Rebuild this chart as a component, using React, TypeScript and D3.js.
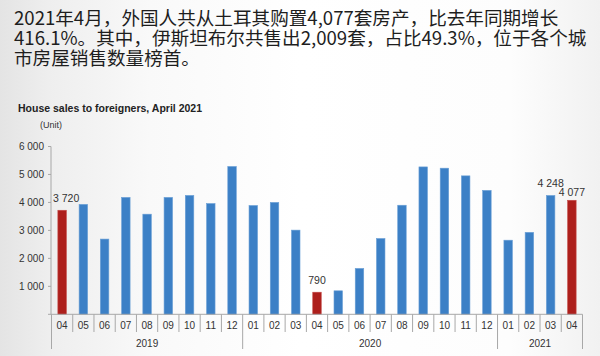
import React from "react";
import * as d3 from "d3";

const months = ["04","05","06","07","08","09","10","11","12","01","02","03","04","05","06","07","08","09","10","11","12","01","02","03","04"];
const years = ["2019","2020","2021"];
const yearSpans = [[0, 9], [9, 21], [21, 25]];
const sales = [3720,3930,2690,4180,3580,4180,4250,3960,5285,3890,4000,3010,790,840,1640,2710,3900,5270,5225,4950,4430,2650,2930,4248,4077];
const highlighted = [0, 12, 24];
const labelled = [0, 12, 23, 24];
const yTicks = [1000, 2000, 3000, 4000, 5000, 6000];
const headerLines = [
  "2021年4月，外国人共从土耳其购置4,077套房产，比去年同期增长",
  "416.1%。其中，伊斯坦布尔共售出2,009套，占比49.3%，位于各个城",
  "市房屋销售数量榜首。",
];
const chartTitle = "House sales to foreigners, April 2021";
const unitLabel = "(Unit)";

const W = 600, H = 356;
const BLUE = "#3c80c6";
const RED = "#ad1f1c";
const AXIS = "#a8a8a8";
const TEXT = "#333";
const latin = "'Liberation Sans', Arial, sans-serif";
const cjk = "'Noto Sans CJK SC', 'Noto Sans', sans-serif";

const fmt = d3.formatLocale({ thousands: " ", grouping: [3], decimal: ".", currency: ["", ""] }).format(",");

export default function App() {
  const x = d3.scaleBand<number>().domain(d3.range(sales.length)).range([51.5, 582.5]).paddingInner(0.6).paddingOuter(0.3);
  const y = d3.scaleLinear().domain([0, 6000]).range([314.3, 146.5]);
  const step = x.step();
  const bw = x.bandwidth();
  const center = (i: number) => (x(0) as number) + bw / 2 + i * step;
  const boundary = (i: number) => center(i) - step / 2;
  const y0 = y(0);

  return (
    <svg width={W} height={H} style={{ position: "absolute", left: 0, top: 0 }} xmlns="http://www.w3.org/2000/svg">
      <defs>
        <linearGradient id="bg" x1="0" y1="0" x2="1" y2="0">
          <stop offset="0" stopColor="#e4e4e4" />
          <stop offset="0.08" stopColor="#eeeeee" />
          <stop offset="0.25" stopColor="#f9f9f9" />
          <stop offset="0.5" stopColor="#ffffff" />
          <stop offset="0.85" stopColor="#fdfdfd" />
          <stop offset="1" stopColor="#f1f1f1" />
        </linearGradient>
      </defs>
      <rect x={0} y={0} width={W} height={H} fill="url(#bg)" />

      {headerLines.map((t, i) => (
        <text key={i} x={14} y={24.5 + i * 20.3} fontFamily={cjk} fontSize={18.6} fill="#1e1e1e">{t}</text>
      ))}

      <text x={18} y={112} fontFamily={latin} fontSize={10.5} fontWeight="bold" fill="#222">{chartTitle}</text>
      <text x={40} y={128} fontFamily={latin} fontSize={9} fill={TEXT}>{unitLabel}</text>

      {/* y axis */}
      <line x1={51} x2={51} y1={y(6000)} y2={y0} stroke={AXIS} strokeWidth={1} />
      {yTicks.map((t) => (
        <g key={t}>
          <line x1={48} x2={51} y1={y(t)} y2={y(t)} stroke={AXIS} strokeWidth={1} />
          <text x={44} y={y(t)} dy="0.35em" textAnchor="end" fontFamily={latin} fontSize={10} fill={TEXT}>{fmt(t)}</text>
        </g>
      ))}

      {/* bars */}
      {sales.map((v, i) => (
        <rect key={i} x={x(i)} y={y(v)} width={bw} height={y0 - y(v)}
          fill={highlighted.includes(i) ? RED : BLUE}
          stroke={highlighted.includes(i) ? "#c44a47" : "#6a9fd6"} strokeWidth={0.6} />
      ))}

      {/* value labels */}
      {labelled.map((i) => (
        <text key={i} x={center(i) + (i === 0 ? 4 : 0)} y={y(sales[i]) - (i === 24 ? 4 : 8.5)} textAnchor="middle"
          fontFamily={latin} fontSize={10.5} fill={TEXT}>{fmt(sales[i])}</text>
      ))}

      {/* x axis */}
      <line x1={48} x2={boundary(sales.length)} y1={y0} y2={y0} stroke={AXIS} strokeWidth={1} />
      {d3.range(sales.length + 1).map((i) => {
        const isYear = yearSpans.some((s) => s[0] === i) || i === sales.length;
        return (
          <line key={i} x1={boundary(i)} x2={boundary(i)} y1={y0} y2={isYear ? 349 : 332}
            stroke={AXIS} strokeWidth={1} />
        );
      })}
      {months.map((m, i) => (
        <text key={i} x={center(i)} y={325} dy="0.35em" textAnchor="middle" fontFamily={latin} fontSize={10} fill={TEXT}>{m}</text>
      ))}
      {years.map((yr, k) => {
        const [a, b] = yearSpans[k];
        const cx = (boundary(a) + boundary(b)) / 2;
        return (
          <text key={yr} x={cx} y={343} dy="0.35em" textAnchor="middle" fontFamily={latin} fontSize={10} fill={TEXT}>{yr}</text>
        );
      })}
    </svg>
  );
}
